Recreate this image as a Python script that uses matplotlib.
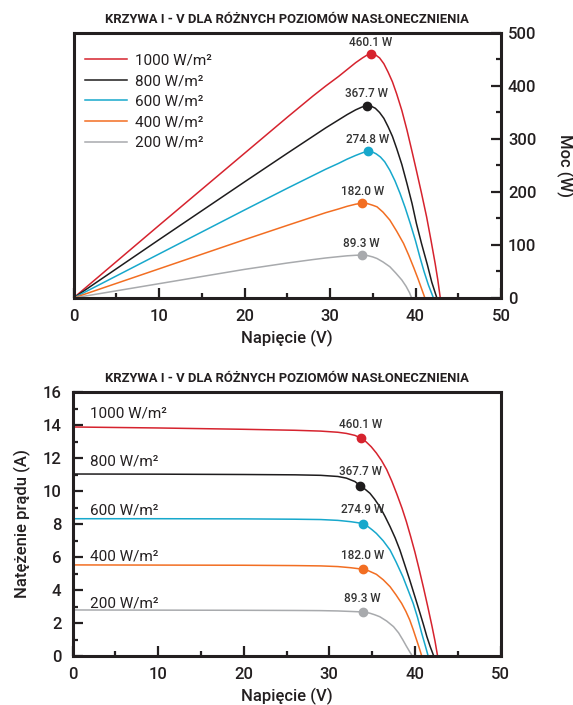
import matplotlib
matplotlib.use("Agg")
import matplotlib.pyplot as plt
from matplotlib.ticker import MultipleLocator

plt.rcParams['font.family'] = ['Roboto', 'DejaVu Sans']

# ---------------- data ----------------
title = "KRZYWA I - V DLA RÓŻNYCH POZIOMÓW NASŁONECZNIENIA"
series_names = ["1000 W/m²", "800 W/m²", "600 W/m²", "400 W/m²", "200 W/m²"]
colors = ["#d6232e", "#1e1c1d", "#17a8cc", "#f26e22", "#a8aaad"]

# Power vs voltage (top chart)
pv_v_1000 = [0, 10, 20, 25, 28, 29.5, 31, 32, 33, 33.8, 34.3, 34.8, 35.3, 35.8, 36.3, 36.8,
             37.3, 37.8, 38.4, 39.0, 39.6, 40.1, 40.7, 41.3, 41.8, 42.3, 42.6, 42.9]
pv_p_1000 = [0, 137, 273, 341, 381, 400, 418, 431, 444, 453, 458, 460.1, 459, 453, 442, 426,
             408, 385, 354, 317, 276, 241, 198, 153, 110, 65, 35, 0]
pv_v_800 = [0, 10, 20, 25, 28, 29.5, 31, 32, 33, 33.7, 34.3, 34.8, 35.3, 35.8, 36.3, 36.8,
            37.3, 37.8, 38.4, 39.0, 39.6, 40.1, 40.7, 41.4, 41.9, 42.5]
pv_p_800 = [0, 110, 219, 273, 305, 321, 336, 346, 355, 360, 363, 362, 358, 350, 339, 323,
            305, 282, 252, 216, 178, 141, 103, 62, 30, 0]
pv_v_600 = [0, 10, 20, 25, 28, 29.5, 31, 32, 33, 33.8, 34.4, 34.9, 35.4, 35.9, 36.4, 37.0,
            37.6, 38.2, 38.8, 39.4, 40.0, 40.5, 41.0, 41.5, 42.1]
pv_p_600 = [0, 83, 166, 207, 231, 243, 254, 262, 269, 274, 277, 276, 272, 266, 257, 241,
            221, 197, 170, 140, 108, 78, 50, 25, 0]
pv_v_400 = [0, 10, 20, 25, 28, 29.5, 31, 32, 33, 33.8, 34.4, 35.0, 35.5, 36.2, 37.0, 37.8,
            38.6, 39.2, 39.8, 40.3, 40.7, 41.1]
pv_p_400 = [0, 55, 110, 137, 153, 161, 168, 173, 177, 179, 178, 175, 172, 162, 147, 126,
            103, 81, 57, 36, 18, 0]
pv_v_200 = [0, 10, 20, 25, 28, 29.5, 31, 32, 33, 33.7, 34.4, 35.0, 35.5, 36.2, 37.0, 37.7,
            38.4, 38.9, 39.3, 39.55]
pv_p_200 = [0, 27, 54, 66, 72.5, 75.5, 78, 79.6, 80.6, 81, 80, 77.5, 74.5, 68, 59, 47,
            34, 22, 10, 0]

mpp_pv_v = [34.8, 34.3, 34.4, 33.8, 33.7]
mpp_pv_p = [460.1, 363, 277, 179, 81]
mpp_pv_labels = ["460.1 W", "367.7 W", "274.8 W", "182.0 W", "89.3 W"]

# Current vs voltage (bottom chart)
iv_v_1000 = [0, 10, 20, 26, 29, 31, 32, 33, 33.7, 34.3, 34.9, 35.5, 36.1, 36.7, 37.3, 37.9,
             38.5, 39.0, 39.5, 40.0, 40.5, 41.0, 41.5, 42.0, 42.35, 42.65]
iv_i_1000 = [13.88, 13.82, 13.74, 13.68, 13.63, 13.56, 13.49, 13.37, 13.2, 12.98, 12.68, 12.3,
             11.85, 11.3, 10.6, 9.8, 8.95, 8.15, 7.25, 6.3, 5.25, 4.15, 3.0, 1.8, 0.9, 0]
iv_v_800 = [0, 10, 20, 26, 29, 31, 32, 33, 33.6, 34.2, 34.75, 35.3, 35.9, 36.5, 37.1, 37.7,
            38.25, 38.8, 39.4, 40.0, 40.6, 41.0, 41.4, 41.8, 42.2]
iv_i_800 = [11.03, 11.02, 11.0, 10.98, 10.95, 10.88, 10.78, 10.57, 10.32, 10.1, 9.86, 9.5,
            9.05, 8.47, 7.84, 7.15, 6.42, 5.55, 4.6, 3.6, 2.59, 1.9, 1.17, 0.55, 0]
iv_v_600 = [0, 10, 20, 26, 29, 31, 32.5, 33.3, 33.9, 34.5, 35.0, 35.5, 36.3, 37.1, 37.8,
            38.6, 39.2, 39.8, 40.3, 40.8, 41.2, 41.55]
iv_i_600 = [8.32, 8.32, 8.31, 8.29, 8.27, 8.22, 8.14, 8.08, 8.02, 7.85, 7.65, 7.43, 6.98,
            6.42, 5.7, 4.8, 4.0, 3.19, 2.35, 1.37, 0.65, 0]
iv_v_400 = [0, 10, 20, 26, 29, 31, 32.5, 33.9, 34.6, 35.5, 36.3, 37.1, 37.8, 38.45, 38.95,
            39.4, 39.8, 40.2, 40.5, 40.8]
iv_i_400 = [5.52, 5.51, 5.5, 5.48, 5.46, 5.42, 5.35, 5.26, 5.16, 4.95, 4.62, 4.2, 3.7, 3.19,
            2.7, 2.18, 1.6, 0.97, 0.5, 0]
iv_v_200 = [0, 10, 20, 26, 29, 31, 32.5, 33.9, 34.7, 35.3, 35.9, 36.7, 37.5, 38.1, 38.6,
            39.0, 39.4, 39.7]
iv_i_200 = [2.79, 2.78, 2.77, 2.76, 2.75, 2.73, 2.7, 2.67, 2.6, 2.5, 2.38, 2.12, 1.78, 1.4,
            0.97, 0.6, 0.25, 0]

mpp_iv_v = [33.7, 33.6, 33.9, 33.9, 33.9]
mpp_iv_i = [13.2, 10.32, 8.02, 5.26, 2.67]
mpp_iv_labels = ["460.1 W", "367.7 W", "274.9 W", "182.0 W", "89.3 W"]

iv_label_v = [2.0, 2.0, 2.0, 2.0, 2.0]
iv_label_i = [14.67, 11.76, 8.79, 6.06, 3.2]

pv_series = [(pv_v_1000, pv_p_1000), (pv_v_800, pv_p_800), (pv_v_600, pv_p_600),
             (pv_v_400, pv_p_400), (pv_v_200, pv_p_200)]
iv_series = [(iv_v_1000, iv_i_1000), (iv_v_800, iv_i_800), (iv_v_600, iv_i_600),
             (iv_v_400, iv_i_400), (iv_v_200, iv_i_200)]

# ---------------- style ----------------
spine_c = "#231f20"
text_c = "#231f20"
W, H = 573, 705
fig = plt.figure(figsize=(W / 100, H / 100), dpi=100)
ax1 = fig.add_axes([73.5 / W, 1 - 298 / H, 427.5 / W, 265 / H])
ax2 = fig.add_axes([72.5 / W, 1 - 656 / H, 428 / W, 264 / H])


def style_axes(ax):
    for s in ax.spines.values():
        s.set_linewidth(2.2)
        s.set_color(spine_c)
    ax.tick_params(which='major', length=7, width=1.6, color=spine_c,
                   labelsize=12, labelcolor=text_c, direction='in')
    ax.tick_params(which='minor', length=3.8, width=1.6, color=spine_c, direction='in')
    for lab in ax.get_xticklabels() + ax.get_yticklabels():
        lab.set_fontweight('medium')
    ax.set_title(title, fontsize=9.4, fontweight='bold', color=text_c, pad=7)
    ax.set_xlabel("Napięcie (V)", fontsize=12, fontweight='medium', color=text_c, labelpad=4)


# ---- top chart ----
ax1.set_xlim(0, 50)
ax1.set_ylim(0, 500)
ax1.xaxis.set_major_locator(MultipleLocator(10))
ax1.xaxis.set_minor_locator(MultipleLocator(5))
ax1.yaxis.set_major_locator(MultipleLocator(100))
ax1.yaxis.set_minor_locator(MultipleLocator(50))
ax1.tick_params(axis='x', which='both', bottom=True, top=False, pad=8)
ax1.tick_params(axis='y', which='both', left=False, right=True,
                labelleft=False, labelright=True, pad=5)
for (v, p), c, name in zip(pv_series, colors, series_names):
    ax1.plot(v, p, color=c, lw=1.1, label=name, solid_joinstyle='round')
for x, y, c, lab in zip(mpp_pv_v, mpp_pv_p, colors, mpp_pv_labels):
    ax1.plot([x], [y], 'o', color=c, ms=6, zorder=5)
    ax1.annotate(lab, (x, y), xytext=(0, 8.6), textcoords='offset points',
                 ha='center', va='center', fontsize=8.5, fontweight='medium', color='#333333')
style_axes(ax1)
fig.text(565 / W, 1 - 165.5 / H, "Moc (W)", rotation=270, ha='center', va='center',
         fontsize=12, fontweight='medium', color=text_c)
leg = ax1.legend(loc='upper left', bbox_to_anchor=(0.027, 0.922), frameon=False,
                 fontsize=11, handlelength=2.75, handletextpad=0.55, labelspacing=0.43,
                 borderaxespad=0, borderpad=0)
for t in leg.get_texts():
    t.set_color(text_c)

# ---- bottom chart ----
ax2.set_xlim(0, 50)
ax2.set_ylim(0, 16)
ax2.xaxis.set_major_locator(MultipleLocator(10))
ax2.xaxis.set_minor_locator(MultipleLocator(5))
ax2.yaxis.set_major_locator(MultipleLocator(2))
ax2.yaxis.set_minor_locator(MultipleLocator(1))
ax2.tick_params(axis='x', which='both', bottom=True, top=False, pad=8)
ax2.tick_params(axis='y', which='both', left=True, right=False, pad=8)
for (v, i), c in zip(iv_series, colors):
    ax2.plot(v, i, color=c, lw=1.1, solid_joinstyle='round')
for x, y, c, lab in zip(mpp_iv_v, mpp_iv_i, colors, mpp_iv_labels):
    ax2.plot([x], [y], 'o', color=c, ms=6, zorder=5)
    ax2.annotate(lab, (x, y), xytext=(0, 10), textcoords='offset points',
                 ha='center', va='center', fontsize=8.5, fontweight='medium', color='#333333')
for x, y, name in zip(iv_label_v, iv_label_i, series_names):
    ax2.text(x, y, name, fontsize=11, color=text_c, ha='left', va='center')
style_axes(ax2)
ax2.set_ylabel("Natężenie prądu (A)", fontsize=12, fontweight='medium', color=text_c, labelpad=8)

fig.savefig("out.png", dpi=100)
